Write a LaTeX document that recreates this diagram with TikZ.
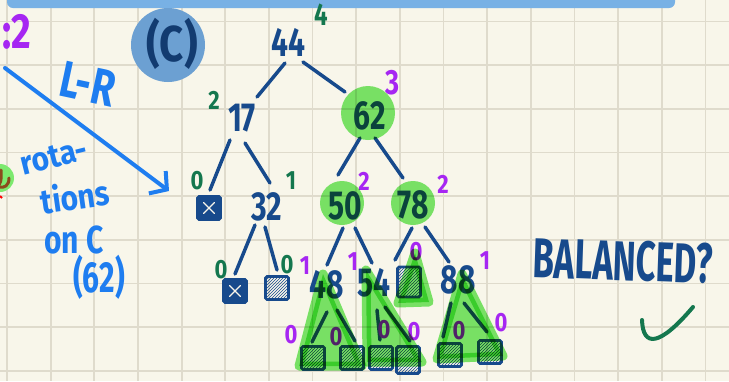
\documentclass[tikz,border=0pt]{standalone}
\usepackage{fontspec}
\setmainfont{Fira Sans}
\usepackage{graphicx}
\usetikzlibrary{arrows.meta,calc,patterns}
\definecolor{bgc}{HTML}{F8F6EA}
\definecolor{gridc}{HTML}{DFDBCC}
\definecolor{bandc}{HTML}{78B1E5}
\definecolor{inkc}{HTML}{174A8C}
\definecolor{cblue}{HTML}{1E7DF0}
\definecolor{circc}{HTML}{6CA0D2}
\definecolor{purp}{HTML}{A626F2}
\definecolor{greenlab}{HTML}{14774E}
\definecolor{hlc}{HTML}{7CE96E}
\definecolor{brownc}{HTML}{8B4A1C}
\newcommand\tl[2]{\scalebox{1}[#1]{#2}}
\begin{document}
\begin{tikzpicture}[x=1pt,y=-1pt,
 num/.style={font=\fontsize{30}{30}\selectfont\bfseries, text=inkc, inner sep=0pt},
 lab/.style={font=\fontsize{22}{22}\selectfont\bfseries, inner sep=0pt},
 pl/.style={lab, text=purp},
 gl/.style={lab, text=greenlab},
 bluetxt/.style={font=\fontsize{30}{30}\selectfont\bfseries, text=cblue, inner sep=0pt},
 edge/.style={draw=inkc, line width=3.5pt, line cap=round},
 nullsq/.style={draw=inkc, fill=inkc, line width=2.8pt, minimum size=23pt, inner sep=0pt, rounded corners=1.5pt,
   path picture={\draw[bgc, line width=1.3pt, line cap=round]
     ([shift={(6pt,6pt)}]path picture bounding box.south west) -- ([shift={(-6pt,-6pt)}]path picture bounding box.north east)
     ([shift={(6pt,-6pt)}]path picture bounding box.north west) -- ([shift={(-6pt,6pt)}]path picture bounding box.south east);}},
 nullhatch/.style={draw=inkc, line width=2.8pt, minimum size=23pt, inner sep=0pt, rounded corners=1.5pt,
   pattern=north east lines, pattern color=inkc},
 hl/.style={fill=hlc, draw=hlc, line width=9pt, line join=round}
]
\fill[bgc] (0,0) rectangle (729,381);
\useasboundingbox (0,0) rectangle (729,381);
\clip (0,0) rectangle (729,381);
% grid
\foreach \i in {0,...,16} \draw[gridc, line width=1.8pt] ({7+43.65*\i},0) -- ({7+43.65*\i},381);
\foreach \j in {0,...,8} \draw[gridc, line width=1.8pt] (0,{21.5+43.65*\j}) -- (729,{21.5+43.65*\j});
% top band
\fill[bandc, rounded corners=6pt] (7,-12) rectangle (675,8);

% left annotations
\node[font=\fontsize{38}{38}\selectfont\bfseries, text=purp, inner sep=0pt] (ratio) at (17,32) {\tl{1.3}{:2}};
\fill[circc] (168,45) circle[radius=37pt];
\node[font=\fontsize{42}{42}\selectfont\bfseries, text=inkc!80!black, inner sep=0pt] (caseC) at (172,44) {\tl{1.2}{(C)}};
\coordinate (arrS) at (5,68);
\coordinate (arrE) at (169,191);
\draw[cblue, line width=4pt, line cap=round, -{Straight Barb[length=12pt,width=28pt,line width=4pt]}] (arrS) -- (arrE);
\node[font=\fontsize{38}{38}\selectfont\bfseries, text=cblue, inner sep=0pt, rotate=-12] (lr) at (88,84) {\tl{1.35}{L-R}};
\node[bluetxt, rotate=14] (rot1) at (54,157) {\tl{1.1}{rota-}};
\node[bluetxt, rotate=8] (rot2) at (75,196) {\tl{1.15}{tions}};
\node[bluetxt] (rot3) at (74,240) {\tl{1.3}{on C}};
\node[bluetxt] (rot4) at (99,277) {\tl{1.45}{(62)}};
\fill[hlc] (0,178) circle[radius=14pt];
\draw[brownc, line width=3pt, line cap=round] (1,170) .. controls (2,180) and (0,186) .. (-3,186);
\draw[brownc, line width=3pt, line cap=round] (9,178) .. controls (9,186) and (4,188) .. (0,187);
\draw[red, line width=2pt] (0,196) -- (2,198);

% tree nodes
\node[num] (n44) at (288,42) {\tl{1.35}{44}};
\node[num] (n17) at (242,118) {\tl{1.35}{17}};
\node[num] (n62) at (370,116) {\tl{1.35}{62}};
\node[nullsq] (s17) at (209,208) {};
\node[num] (n32) at (267,207) {\tl{1.35}{32}};
\node[nullsq] (s32a) at (235,291) {};
\node[nullhatch] (s32b) at (277,288) {};
\node[num] (n50) at (345,206) {\tl{1.35}{50}};
\node[num] (n78) at (413,205) {\tl{1.35}{78}};
\node[num] (n48) at (327,285) {\tl{1.35}{48}};
\node[num] (n54) at (374,283) {\tl{1.35}{54}};
\node[nullhatch, minimum height=30pt] (s78) at (409,282) {};
\node[num] (n88) at (458,280) {\tl{1.35}{88}};
\node[nullhatch] (b1) at (313,358) {};
\node[nullhatch] (b2) at (352,358) {};
\node[nullhatch] (b3) at (381,358) {};
\node[nullhatch, minimum height=27pt] (b4) at (408,360) {};
\node[nullhatch] (b5) at (450,355) {};
\node[nullhatch] (b6) at (490,352) {};

% edges
\draw[edge] ($(n44)+(-3,21)$) -- ($(n17)+(15,-21)$);
\draw[edge] ($(n44)+(15,20)$) -- ($(n62)+(-25,-24)$);
\draw[edge] ($(n17)+(-12,22)$) -- ($(s17)+(1,-18)$);
\draw[edge] ($(n17)+(3,25)$) -- ($(n32)+(3,-24)$);
\draw[edge] ($(n62)+(-10,22)$) -- ($(n50)+(-7,-31)$);
\draw[edge] ($(n62)+(5,22)$) -- ($(n78)+(-10,-27)$);
\draw[edge] ($(n32)+(-12,18)$) -- ($(s32a)+(0,-17)$);
\draw[edge] ($(n32)+(-2,20)$) -- ($(s32b)+(0,-18)$);
\draw[edge] ($(n50)+(-2,22)$) -- ($(n48)+(0,-20)$);
\draw[edge] ($(n50)+(10,22)$) -- ($(n54)+(-2,-20)$);
\draw[edge] ($(n78)+(-1,23)$) -- ($(s78)+(-14,-22)$);
\draw[edge] ($(n78)+(12,22)$) -- ($(n88)+(-9,-18)$);
\draw[edge] ($(n48)+(0,27)$) -- ($(b1)+(-1,-16)$);
\draw[edge] ($(n48)+(10,25)$) -- ($(b2)+(3,-17)$);
\draw[edge] ($(n54)+(3,27)$) -- ($(b3)+(-1,-18)$);
\draw[edge] ($(n54)+(11,24)$) -- ($(b4)+(2,-19)$);
\draw[edge] ($(n88)+(-7,23)$) -- ($(b5)+(-7,-18)$);
\draw[edge] ($(n88)+(6,23)$) -- ($(b6)+(-3,-20)$);

% balance labels
\node[gl, font=\fontsize{24}{24}\selectfont\bfseries] (h44) at (321,15) {\tl{1.3}{4}};
\node[gl] (h17) at (214,100) {\tl{1.2}{2}};
\node[gl] (h17l) at (197,181) {\tl{1.2}{0}};
\node[gl] (h32) at (291,181) {\tl{1.2}{1}};
\node[gl] (h32a) at (221,270) {\tl{1.2}{0}};
\node[gl] (h32b) at (287,265) {\tl{1.2}{0}};
\node[pl, font=\fontsize{27}{27}\selectfont\bfseries] (h62) at (393,83) {\tl{1.3}{3}};
\node[pl] (h50) at (364,181) {\tl{1.2}{2}};
\node[pl] (h78) at (443,184) {\tl{1.2}{2}};
\node[pl] (h48) at (305,266) {\tl{1.2}{1}};
\node[pl] (h54) at (353,262) {\tl{1.2}{1}};
\node[pl] (h78l) at (416,252) {\tl{1.2}{0}};
\node[pl] (h88) at (485,261) {\tl{1.2}{1}};
\node[pl] (hb1) at (291,335) {\tl{1.2}{0}};
\node[pl] (hb2) at (336,337) {\tl{1.2}{0}};
\node[pl] (hb3) at (384,330) {\tl{1.2}{0}};
\node[pl] (hb4) at (414,332) {\tl{1.2}{0}};
\node[pl] (hb5) at (459,331) {\tl{1.2}{0}};
\node[pl] (hb6) at (501,323) {\tl{1.2}{0}};

% highlights (multiply over ink)
\begin{scope}[blend mode=multiply]
\fill[hlc] (368,113) circle[radius=27pt];
\fill[hlc] (342,203) circle[radius=22pt];
\fill[hlc] (413,203) circle[radius=22pt];
\filldraw[hl] (323,274) -- (299,366) -- (362,366) -- cycle;
\filldraw[hl] (366,270) -- (367,362) -- (422,362) -- cycle;
\filldraw[hl] (415,253) -- (398,303) -- (429,302) -- cycle;
\filldraw[hl] (462,274) -- (437,359) -- (503,356) -- cycle;
\end{scope}

% right side
\node[font=\fontsize{33}{33}\selectfont\bfseries, text=inkc, inner sep=0pt, rotate=-2] (bal) at (623,261) {\scalebox{1.05}[1.7]{BALANCED?}};
\draw[greenlab, line width=4pt, line cap=round] (642,320) .. controls (643,348) and (660,346) .. (693,307);
\end{tikzpicture}
\end{document}
